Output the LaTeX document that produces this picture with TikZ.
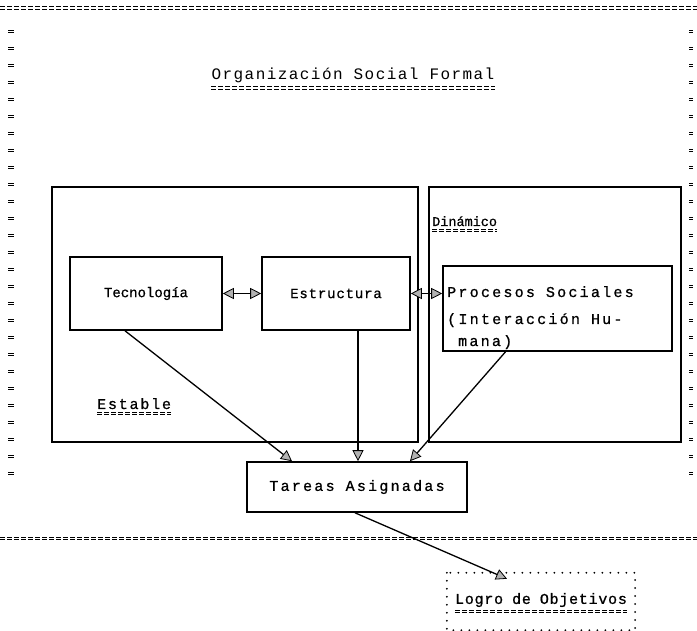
\documentclass[tikz,border=0pt]{standalone}
\usepackage{fontspec}
\setmainfont{Liberation Mono}
\newfontfamily\twA[FakeBold=0.8]{Liberation Mono}
\newfontfamily\twB[LetterSpace=9]{Liberation Mono}
\newfontfamily\twT[LetterSpace=6,FakeBold=0.8]{Liberation Mono}
\newfontfamily\twC[LetterSpace=15,FakeBold=0.8]{Liberation Mono}
\newfontfamily\twD[LetterSpace=5,FakeBold=0.8]{Liberation Mono}
\newfontfamily\twE[LetterSpace=12,FakeBold=0.8]{Liberation Mono}
\usetikzlibrary{arrows.meta,calc}
\tikzset{
  box/.style={draw, line width=1.6pt, inner sep=0pt},
  tip/.tip={Triangle[length=11pt,width=11pt,fill=gray!60,line width=0.8pt]},
  arr/.style={-tip, line width=1.3pt},
  dblarr/.style={tip-tip, line width=1.3pt},
  eqd/.style={line width=1pt, dash pattern=on 5pt off 2pt},
  dots/.style={line width=2pt, line cap=round, dash pattern=on 0pt off 8pt},
  txt/.style={inner sep=0pt}
}
\newcommand\eqrun[2]{\draw[eqd] #1 -- #2; \draw[eqd, transform canvas={yshift=-2.4pt}] #1 -- #2;}
\begin{document}
\begin{tikzpicture}[x=1pt,y=-1pt]
\useasboundingbox (0,0) rectangle (697,631);
\fill[white] (0,0) rectangle (697,631);
% outer frame made of typed marks
\coordinate (tl) at (0,7);
\coordinate (tr) at (697,7);
\coordinate (bl) at (0,537);
\coordinate (br) at (697,537);
\eqrun{(tl)}{(tr)}
\eqrun{(bl)}{(br)}
\foreach \yy in {30,47,...,480} {
  \draw[line width=0.9pt] (8,\yy) -- (14,\yy);
  \draw[line width=0.9pt] (8,\yy+2.6) -- (14,\yy+2.6);
  \draw[line width=0.6pt] (689,\yy) -- (693,\yy);
  \draw[line width=0.6pt] (689,\yy+2.6) -- (693,\yy+2.6);
}
% title
\node[txt, font=\twB\fontsize{16}{18}\selectfont] (title) at (353,75) {Organización Social Formal};
\path (title.south west) ++(0,4) coordinate (tu1) (title.south east) ++(0,4) coordinate (tu2);
\eqrun{(tu1)}{(tu2)}
% containers
\node[box, minimum width=366pt, minimum height=255pt] (estable) at (235,314.5) {};
\node[box, minimum width=252pt, minimum height=255pt] (dinamico) at (555,314.5) {};
\node[txt, anchor=base west, font=\twE\fontsize{15}{16}\selectfont] (estlbl) at (97,409) {Estable};
\path (estlbl.south west) ++(0,3) coordinate (eu1) (estlbl.south east) ++(0,3) coordinate (eu2);
\eqrun{(eu1)}{(eu2)}
\node[txt, anchor=base west, font=\twA\fontsize{13.5}{15}\selectfont] (dinlbl) at (432,226) {Dinámico};
\path (dinlbl.south west) ++(0,3) coordinate (du1) (dinlbl.south east) ++(0,3) coordinate (du2);
\eqrun{(du1)}{(du2)}
% inner boxes
\node[box, minimum width=152pt, minimum height=73pt, font=\twA\fontsize{14}{15}\selectfont] (tec) at (146,293.5) {Tecnología\hspace{18pt}};
\node[box, minimum width=148pt, minimum height=73pt, font=\twT\fontsize{14}{15}\selectfont] (est) at (336,293.5) {Estructura\hspace{16pt}};
\node[box, minimum width=229pt, minimum height=85pt] (proc) at (557.5,308.5) {};
\node[txt, anchor=base west, font=\twC\fontsize{15}{16}\selectfont] (p1) at (447,297) {Procesos\hspace{11pt}Sociales};
\node[txt, anchor=base west, font=\twC\fontsize{15}{16}\selectfont] (p2) at (447,324) {(Interacción\hspace{11pt}Hu-};
\node[txt, anchor=base west, font=\twC\fontsize{15}{16}\selectfont] (p3) at (458,346) {mana)};
\node[box, minimum width=220pt, minimum height=50pt, font=\twC\fontsize{15}{16}\selectfont] (tar) at (357,487) {Tareas\hspace{11pt}Asignadas};
% goal box
\node[inner sep=0pt, minimum width=188pt, minimum height=57pt] (logro) at (541,601.5) {};
\draw[dots] (logro.north west) rectangle (logro.south east);
\node[txt, font=\twD\fontsize{15}{16}\selectfont] (logrotxt) at (541,600) {Logro\hspace{9pt}de\hspace{9pt}Objetivos};
\path (logrotxt.south west) ++(0,3) coordinate (lu1) (logrotxt.south east) ++(0,3) coordinate (lu2);
\eqrun{(lu1)}{(lu2)}
% connectors
\draw[dblarr] (tec.east) -- (est.west);
\draw[dblarr] (est.east) -- (est.east -| proc.west);
\draw[arr] ([xshift=-21pt]tec.south) -- ([xshift=-65pt]tar.north);
\draw[arr] ([xshift=22pt]est.south) -- ([xshift=22pt]est.south |- tar.north);
\draw[arr] ([xshift=-52pt]proc.south) -- ([xshift=53pt]tar.north);
\draw[arr] ([xshift=-2pt]tar.south) -- ([xshift=-34pt,yshift=-6pt]logro.north);
\end{tikzpicture}
\end{document}
